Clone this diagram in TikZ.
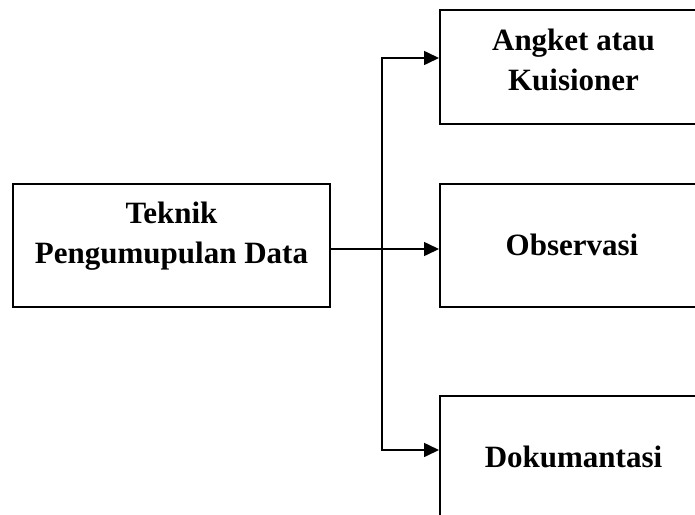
\documentclass[tikz,border=0pt]{standalone}
\usepackage{fontspec}
\setmainfont{Liberation Serif}
\usetikzlibrary{arrows.meta}

\begin{document}
\begin{tikzpicture}[x=1pt,y=-1pt,->,>={Triangle[length=15pt,width=14pt]},line width=1.6pt,
    box/.style={draw,rectangle,line width=2pt,minimum width=#1,inner sep=0pt},
    box/.default=267pt,
    txt/.style={align=center,font=\bfseries\fontsize{31}{40}\selectfont}]

  \useasboundingbox (0,0) rectangle (695,514);

  % boxes
  \node[box=317pt,minimum height=123pt] (teknik) at (171.5,245.5) {};
  \node[box,minimum height=114pt] (angket) at (573.5,67) {};
  \node[box,minimum height=123pt] (obs) at (573.5,245.5) {};
  \node[box,minimum height=123pt] (doku) at (573.5,457.5) {};

  % texts
  \node[txt] (tTeknik) at (171.5,236) {Teknik\\Pengumupulan Data};
  \node[txt] (tAngket) at (573.5,59.5) {Angket atau\\Kuisioner};
  \node[txt] (tObs) at (572,244.5) {Observasi};
  \node[txt] (tDoku) at (573.5,456.5) {Dokumantasi};

  \coordinate (split) at (382,249);

  \draw ([yshift=-3.5pt]teknik.east) -- ([yshift=-3.5pt]obs.west);
  \draw (split) |- ([yshift=9pt]angket.west);
  \draw (split) |- ([yshift=7.5pt]doku.west);

\end{tikzpicture}
\end{document}
